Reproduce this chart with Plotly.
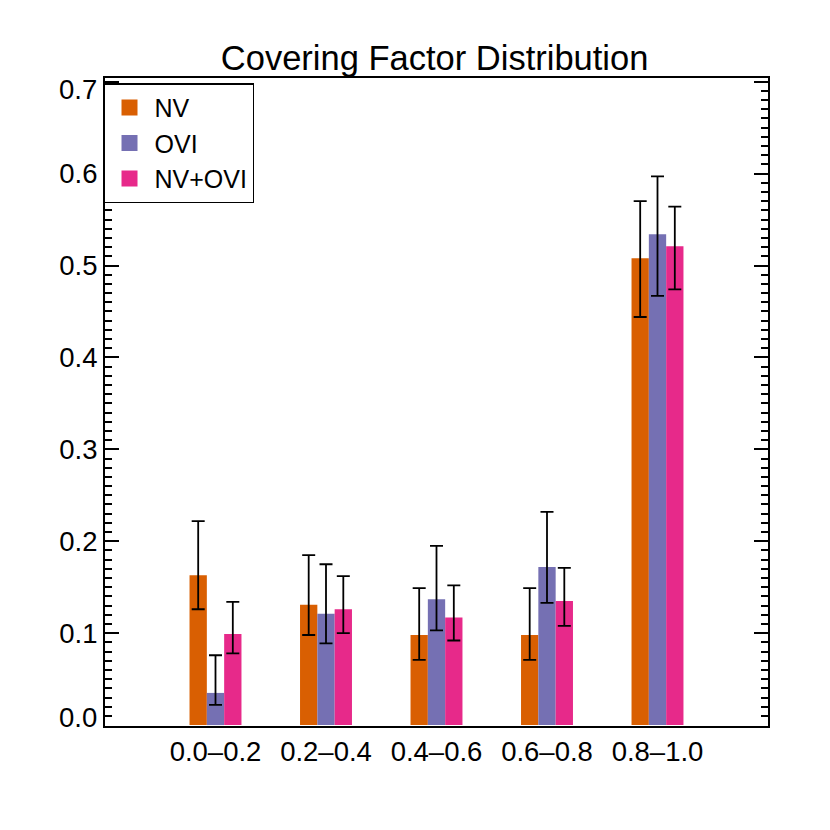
import plotly.graph_objects as go

# covering factor bins
categories = ['0.0\u20130.2', '0.2\u20130.4', '0.4\u20130.6', '0.6\u20130.8', '0.8\u20131.0']
y_ticks = [0.0, 0.1, 0.2, 0.3, 0.4, 0.5, 0.6, 0.7]

nv = [0.163, 0.131, 0.098, 0.098, 0.508]
nv_hi = [0.222, 0.185, 0.149, 0.149, 0.570]
nv_lo = [0.126, 0.098, 0.071, 0.071, 0.444]

ovi = [0.035, 0.121, 0.137, 0.172, 0.534]
ovi_hi = [0.076, 0.175, 0.195, 0.232, 0.597]
ovi_lo = [0.022, 0.089, 0.103, 0.133, 0.467]

both = [0.099, 0.126, 0.117, 0.135, 0.521]
both_hi = [0.134, 0.162, 0.152, 0.171, 0.564]
both_lo = [0.078, 0.100, 0.092, 0.108, 0.474]

colors = {'NV': '#D95F02', 'OVI': '#7570B3', 'NV+OVI': '#E7298A'}

series = [
    ('NV', nv, nv_hi, nv_lo),
    ('OVI', ovi, ovi_hi, ovi_lo),
    ('NV+OVI', both, both_hi, both_lo),
]

fig = go.Figure()
xpos = list(range(len(categories)))
for name, vals, hi, lo in series:
    fig.add_trace(go.Bar(
        x=xpos, y=vals, name=name, showlegend=False,
        marker=dict(color=colors[name], line=dict(width=0)),
        error_y=dict(
            type='data', symmetric=False,
            array=[h - v for h, v in zip(hi, vals)],
            arrayminus=[v - l for v, l in zip(vals, lo)],
            color='black', thickness=1.8, width=6.5,
        ),
    ))

# legend entries with bigger square swatches than the default bar icon
for name, _, _, _ in series:
    fig.add_trace(go.Scatter(
        x=[None], y=[None], mode='markers', name=name,
        marker=dict(symbol='square', size=20, color=colors[name], line=dict(width=0)),
    ))

font_family = 'Liberation Sans, Arial, sans-serif'
axis_font = dict(family=font_family, size=27.5, color='black')

# end labels sit inside the axis range, as in the original plot
ytext = ['{:.1f}'.format(v) for v in y_ticks]
ytext[0] = ''
ytext[-1] = ''
for v, shift in [(y_ticks[0], 8), (y_ticks[-1], -8)]:
    fig.add_annotation(x=0, xref='paper', y=v, yref='y', text='{:.1f}'.format(v),
                       showarrow=False, xanchor='right', yanchor='middle',
                       xshift=-6, yshift=shift, font=axis_font)

fig.update_layout(
    width=830, height=830,
    paper_bgcolor='white', plot_bgcolor='white',
    margin=dict(l=97, r=70, t=70, b=112),
    barmode='group', bargap=0.53, bargroupgap=0,
    title=dict(text='Covering Factor Distribution', x=0.514, xanchor='center',
               y=0.94, yanchor='middle',
               font=dict(family=font_family, size=34.5, color='black')),
    font=axis_font,
    showlegend=True,
    legend=dict(x=-0.003, y=0.992, xanchor='left', yanchor='top',
                bgcolor='white', bordercolor='black', borderwidth=1.5,
                font=dict(family=font_family, size=25, color='black'),
                itemsizing='trace', itemwidth=40, tracegroupgap=0),
    xaxis=dict(
        range=[-1, 5], tickmode='array', tickvals=xpos, ticktext=categories,
        showline=True, linecolor='black', linewidth=2, mirror=True,
        ticks='', showgrid=False, zeroline=False, tickfont=axis_font,
    ),
    yaxis=dict(
        range=[-0.001, 0.704], tickmode='array', tickvals=y_ticks, ticktext=ytext,
        showline=True, linecolor='black', linewidth=2, mirror='ticks',
        ticks='inside', ticklen=14, tickwidth=1.5, tickcolor='black',
        minor=dict(dtick=0.01, ticks='inside', ticklen=7, tickwidth=1.5, tickcolor='black'),
        showgrid=False, zeroline=False, tickfont=axis_font,
    ),
)

fig.write_html('out.html')
